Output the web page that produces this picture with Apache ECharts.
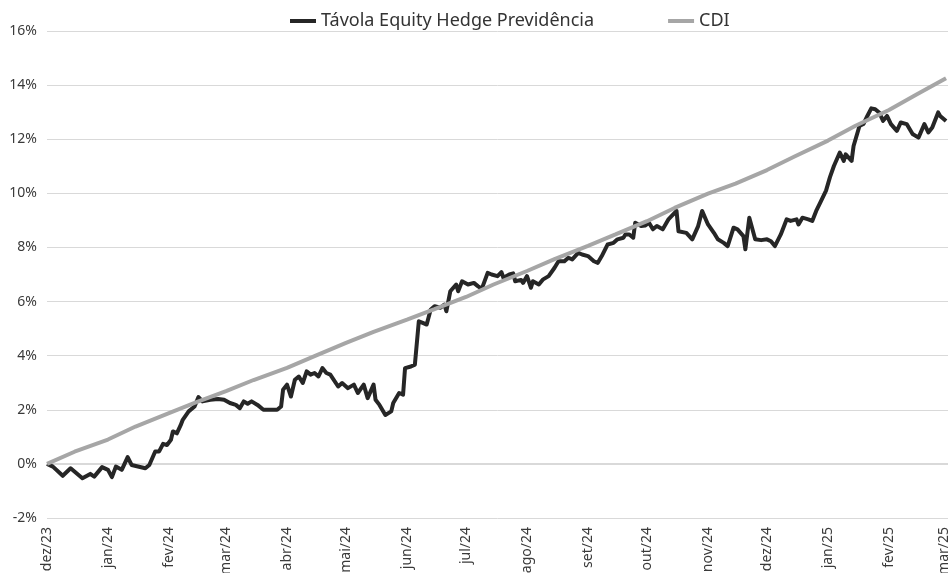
<!DOCTYPE html>
<html>
<head>
<meta charset="utf-8">
<script src="https://cdn.jsdelivr.net/npm/echarts@6/dist/echarts.min.js"></script>
<style>
html,body{margin:0;padding:0;background:#fff;}
#chart{width:948px;height:573px;}
</style>
</head>
<body>
<div id="chart"></div>
<script>
// ---- data ----
const seriesNames = ['Távola Equity Hedge Previdência', 'CDI'];

const fundDates = [
 '2023-12-01','2023-12-04','2023-12-09','2023-12-13','2023-12-19','2023-12-23','2023-12-25','2023-12-29',
 '2024-01-01','2024-01-03','2024-01-05','2024-01-08','2024-01-11','2024-01-13','2024-01-20','2024-01-22','2024-01-25','2024-01-27','2024-01-29','2024-01-31',
 '2024-02-02','2024-02-03','2024-02-05','2024-02-07','2024-02-08','2024-02-11','2024-02-14','2024-02-16','2024-02-18','2024-02-19','2024-02-22','2024-02-26','2024-02-29',
 '2024-03-03','2024-03-06','2024-03-08','2024-03-10','2024-03-12','2024-03-14','2024-03-17','2024-03-20','2024-03-23','2024-03-27','2024-03-29','2024-03-30',
 '2024-04-01','2024-04-03','2024-04-05','2024-04-07','2024-04-09','2024-04-11','2024-04-13','2024-04-15','2024-04-17','2024-04-19','2024-04-21','2024-04-23','2024-04-27','2024-04-29',
 '2024-05-02','2024-05-05','2024-05-07','2024-05-10','2024-05-12','2024-05-15','2024-05-16','2024-05-18','2024-05-21','2024-05-24','2024-05-25','2024-05-28','2024-05-30','2024-05-31',
 '2024-06-03','2024-06-05','2024-06-07','2024-06-09','2024-06-11','2024-06-13','2024-06-15','2024-06-18','2024-06-20','2024-06-21','2024-06-23','2024-06-26','2024-06-27','2024-06-29',
 '2024-07-02','2024-07-05','2024-07-07','2024-07-09','2024-07-12','2024-07-14','2024-07-17','2024-07-19','2024-07-20','2024-07-23','2024-07-25','2024-07-26','2024-07-29','2024-07-30',
 '2024-08-01','2024-08-03','2024-08-04','2024-08-07','2024-08-09','2024-08-12','2024-08-15','2024-08-17','2024-08-20','2024-08-22','2024-08-24','2024-08-27','2024-08-29',
 '2024-09-01','2024-09-04','2024-09-06','2024-09-08','2024-09-11','2024-09-14','2024-09-16','2024-09-19','2024-09-20','2024-09-22','2024-09-24','2024-09-25','2024-09-28','2024-09-30',
 '2024-10-02','2024-10-04','2024-10-06','2024-10-09','2024-10-12','2024-10-16','2024-10-17','2024-10-21','2024-10-24','2024-10-27','2024-10-29',
 '2024-11-01','2024-11-04','2024-11-06','2024-11-09','2024-11-11','2024-11-14','2024-11-16','2024-11-19','2024-11-20','2024-11-22','2024-11-25','2024-11-28',
 '2024-12-01','2024-12-03','2024-12-05','2024-12-08','2024-12-11','2024-12-13','2024-12-16','2024-12-17','2024-12-19','2024-12-22','2024-12-24','2024-12-26','2024-12-28','2024-12-31',
 '2025-01-02','2025-01-04','2025-01-07','2025-01-09','2025-01-10','2025-01-13','2025-01-14','2025-01-17','2025-01-19','2025-01-21','2025-01-23','2025-01-25','2025-01-27','2025-01-29','2025-01-31',
 '2025-02-02','2025-02-05','2025-02-07','2025-02-10','2025-02-11','2025-02-13','2025-02-16','2025-02-19','2025-02-21','2025-02-23','2025-02-26','2025-02-27','2025-03-02'
];
const fundValues = [
 0.00,-0.10,-0.44,-0.16,-0.53,-0.37,-0.47,-0.12,
 -0.22,-0.49,-0.10,-0.22,0.25,-0.04,-0.16,-0.04,0.46,0.46,0.74,0.70,
 0.89,1.20,1.13,1.44,1.63,1.94,2.12,2.47,2.31,2.31,2.37,2.40,2.37,
 2.25,2.18,2.06,2.31,2.22,2.31,2.18,2.00,2.00,2.00,2.12,2.74,
 2.93,2.49,3.11,3.23,2.99,3.42,3.30,3.36,3.23,3.54,3.36,3.30,2.86,2.99,
 2.80,2.93,2.62,2.93,2.43,2.93,2.37,2.18,1.81,1.94,2.25,2.62,2.56,3.54,
 3.60,3.67,5.27,5.21,5.15,5.70,5.83,5.77,5.89,5.64,6.38,6.63,6.38,6.75,
 6.63,6.69,6.57,6.47,7.06,7.00,6.94,7.09,6.88,7.00,7.04,6.75,6.80,6.69,
 6.94,6.51,6.75,6.63,6.81,6.94,7.25,7.49,7.49,7.62,7.56,7.80,7.74,
 7.68,7.49,7.43,7.68,8.11,8.17,8.30,8.36,8.48,8.48,8.36,8.91,8.79,8.81,
 8.91,8.67,8.79,8.67,9.05,9.35,8.60,8.54,8.30,8.79,9.35,
 8.85,8.54,8.30,8.17,8.05,8.73,8.67,8.42,7.93,9.10,8.30,8.27,
 8.30,8.23,8.05,8.48,9.04,8.98,9.04,8.85,9.10,9.04,8.98,9.35,9.65,10.10,
 10.60,11.01,11.51,11.20,11.44,11.20,11.75,12.49,12.56,12.86,13.14,13.11,12.99,12.68,12.86,
 12.56,12.31,12.62,12.56,12.62,12.19,12.06,12.56,12.25,12.43,12.99,12.86,12.67
];

const cdiDates = [
 '2023-12-01','2023-12-15','2024-01-01','2024-01-15','2024-02-01','2024-02-15','2024-03-01','2024-03-15',
 '2024-04-01','2024-04-15','2024-05-01','2024-05-15','2024-06-01','2024-06-15','2024-07-01','2024-07-15',
 '2024-08-01','2024-08-15','2024-09-01','2024-09-15','2024-10-01','2024-10-15','2024-11-01','2024-11-15',
 '2024-12-01','2024-12-15','2025-01-01','2025-01-15','2025-02-01','2025-02-15','2025-03-02'
];
const cdiValues = [
 0.00,0.45,0.90,1.38,1.88,2.28,2.69,3.10,
 3.55,3.98,4.47,4.88,5.33,5.72,6.17,6.63,
 7.13,7.57,8.06,8.48,8.97,9.46,9.99,10.36,
 10.86,11.36,11.95,12.50,13.08,13.65,14.25
];

const monthTicks = ['2023-12-01','2024-01-01','2024-02-01','2024-03-01','2024-04-01','2024-05-01','2024-06-01',
 '2024-07-01','2024-08-01','2024-09-01','2024-10-01','2024-11-01','2024-12-01','2025-01-01','2025-02-01','2025-03-01'];
const monthNames = ['jan','fev','mar','abr','mai','jun','jul','ago','set','out','nov','dez'];

const axisMin = '2023-12-01';
const axisMax = '2025-03-03';

// ---- chart ----
function ts(s){ const p = s.split('-'); return Date.UTC(+p[0], +p[1]-1, +p[2]); }
const FONT = '"Noto Sans", sans-serif';

const chart = echarts.init(document.getElementById('chart'), null, {renderer: 'canvas'});
chart.setOption({
  animation: false,
  backgroundColor: '#ffffff',
  legend: {
    top: 7,
    left: 285,
    itemGap: 74,
    itemWidth: 26,
    itemHeight: 4,
    icon: 'rect',
    textStyle: {fontFamily: FONT, fontSize: 18, color: '#333333'},
    data: seriesNames
  },
  grid: {left: 47, right: 0, top: 31, bottom: 55, containLabel: false, outerBoundsMode: 'none'},
  xAxis: {
    type: 'value',
    min: ts(axisMin),
    max: ts(axisMax),
    axisLine: {show: false},
    axisTick: {show: false},
    splitLine: {show: false},
    axisLabel: {
      rotate: 90,
      margin: 9,
      fontFamily: FONT,
      fontSize: 14,
      color: '#3a3a3a',
      showMinLabel: true,
      showMaxLabel: true,
      customValues: monthTicks.map(ts),
      formatter: function (v) {
        const d = new Date(v);
        return monthNames[d.getUTCMonth()] + '/' + String(d.getUTCFullYear()).slice(2);
      }
    }
  },
  yAxis: {
    type: 'value',
    min: -2,
    max: 16,
    interval: 2,
    axisLine: {show: false},
    axisTick: {show: false},
    axisLabel: {
      formatter: '{value}%',
      fontFamily: FONT,
      fontSize: 14,
      color: '#3a3a3a',
      margin: 10
    },
    splitLine: {lineStyle: {color: '#d9d9d9', width: 1}}
  },
  series: [
    {
      name: seriesNames[0],
      type: 'line',
      data: fundDates.map((d, i) => [ts(d), fundValues[i]]),
      showSymbol: false,
      symbol: 'none',
      lineStyle: {color: '#262626', width: 4, join: 'round'},
      itemStyle: {color: '#262626'},
      markLine: {
        silent: true,
        symbol: 'none',
        label: {show: false},
        lineStyle: {color: '#d9d9d9', width: 2, type: 'solid'},
        data: [{yAxis: 0}],
        z: 1
      },
      z: 3
    },
    {
      name: seriesNames[1],
      type: 'line',
      data: cdiDates.map((d, i) => [ts(d), cdiValues[i]]),
      showSymbol: false,
      symbol: 'none',
      lineStyle: {color: '#a6a6a6', width: 4},
      itemStyle: {color: '#a6a6a6'},
      z: 4
    }
  ]
});
</script>
</body>
</html>
